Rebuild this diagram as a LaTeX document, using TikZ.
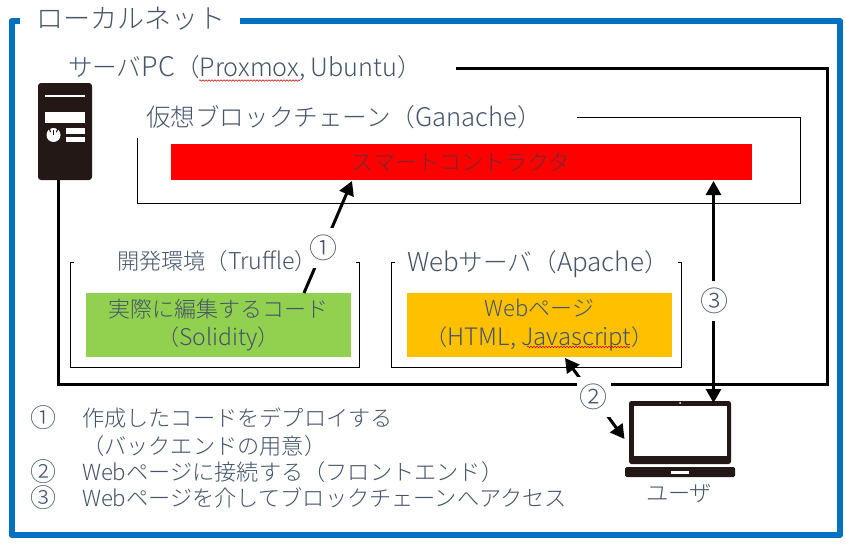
\documentclass[tikz,border=0pt]{standalone}
\usepackage{fontspec}
\setmainfont{Noto Sans CJK JP Light}
\usetikzlibrary{arrows.meta,decorations.pathmorphing,calc}
\definecolor{frameblue}{HTML}{0070C0}
\definecolor{slate}{HTML}{44546A}
\definecolor{ink}{HTML}{231815}
\definecolor{leaf}{HTML}{92D050}
\definecolor{amber}{HTML}{FFC000}
\tikzset{
  frameline/.style={draw=frameblue,line width=6pt,line join=round},
  serverline/.style={draw=black,line width=3pt,line join=miter},
  thinline/.style={draw=black,line width=1pt},
  arrowline/.style={draw=black,line width=3pt,-{Triangle[length=14pt,width=15pt]}},
  bothline/.style={draw=black,line width=3pt,{Triangle[length=14pt,width=15pt]}-{Triangle[length=14pt,width=15pt]}},
  txt/.style={text=slate,inner sep=0pt,outer sep=0pt,anchor=base west,font=\fontsize{22.2}{27}\selectfont},
  big/.style={txt,font=\fontsize{24.6}{28}\selectfont},
  boxtxt/.style={text=slate,align=center,inner sep=0pt,outer sep=0pt,font=\fontsize{22}{28.5}\selectfont},
  num/.style={fill=white,text=slate,inner sep=0pt,outer sep=0pt,font=\fontsize{28}{32}\selectfont},
  listnum/.style={txt,font=\fontsize{26}{28}\selectfont},
  squiggle/.style={draw=red!85!black,line width=0.6pt,decorate,decoration={snake,amplitude=0.7pt,segment length=3pt}},
}
\begin{document}
\begin{tikzpicture}[x=1pt,y=-1pt]
\useasboundingbox (0,0) rectangle (845,543);
\fill[white] (0,0) rectangle (845,543);
% outer frame
\coordinate (fa) at (20,21);
\coordinate (fb) at (240,21);
\draw[frameline] (fa) -- (11.5,21) -- (11.5,535) -- (840,535) -- (840,21) -- (fb);
\node[big,font=\fontsize{27}{30}\selectfont] (title) at (36,29) {ローカルネット};
% server outline
\coordinate (sa) at (456,68.5);
\coordinate (sb) at (58.5,180);
\draw[serverline] (sa) -- (827.5,68.5) -- (827.5,384) -- (58.5,384) -- (sb);
\node[big] (serverlabel) at (68,77) {サーバ{\fontsize{27}{28}\selectfont PC}（{\fontsize{25.2}{28}\selectfont Proxmox, Ubuntu}）};
\draw[squiggle] (199,80.5) -- (300,80.5);
% server icon
\fill[ink,rounded corners=3pt] (38,83) rectangle (92,180);
\fill[white] (45,94.5) rectangle (85,97);
\fill[white] (45,112) rectangle (85,123);
\fill[white] (53.5,135) circle (7);
\draw[ink,line width=1.1pt] (50.7,132.2) arc[start angle=135,end angle=405,radius=4];
\draw[ink,line width=1.1pt] (53.5,130) -- (53.5,135);
\fill[white] (66,128) rectangle (85,133.5);
\fill[white] (66,136.5) rectangle (85,142);
% blockchain box
\coordinate (ga) at (577,117.5);
\coordinate (gb) at (137.5,138);
\draw[thinline] (ga) -- (800.5,117.5) -- (800.5,203) -- (137.5,203) -- (gb);
\node[big] (chainlabel) at (146,126) {仮想ブロックチェーン（{\fontsize{25.6}{28}\selectfont Ganache}）};
\node[fill=red,minimum width=581pt,minimum height=36pt,inner sep=0pt,outer sep=0pt,anchor=north west] (contract) at (171,144) {};
\node[text=slate!55!red!80!black,inner sep=0pt,font=\fontsize{22}{26}\selectfont] (contractlabel) at (461,162) {スマートコントラクタ};
% truffle box
\draw[thinline] (74,262) -- (70.5,262) -- (70.5,367.5) -- (359.5,367.5) -- (359.5,262) -- (356,262);
\node[txt] (trufflelabel) at (117,269) {開発環境（{\fontsize{23.2}{27}\selectfont Truffle}）};
% web server box
\draw[thinline] (395,262) -- (391.5,262) -- (391.5,367.5) -- (681.5,367.5) -- (681.5,262) -- (678,262);
\node[big] (webserverlabel) at (407,271) {{\fontsize{26}{28}\selectfont Web}サーバ（{\fontsize{26}{28}\selectfont Apache}）};
% code boxes
\node[fill=leaf,minimum width=265pt,minimum height=64pt,inner sep=0pt,outer sep=0pt,anchor=north west] (code) at (86,293) {};
\node[boxtxt] (codelabel) at (218.5,325) {実際に編集するコード\\（{\fontsize{23}{28.5}\selectfont Solidity}）};
\node[fill=amber,minimum width=265pt,minimum height=64pt,inner sep=0pt,outer sep=0pt,anchor=north west] (page) at (407,293) {};
\node[boxtxt] (pagelabel) at (539.5,325) {Webページ\\（{\fontsize{24}{28.5}\selectfont HTML, Javascript}）};
\draw[squiggle] (527,347) -- (630,347);
% laptop
\fill[ink,rounded corners=2.5pt] (629,401) rectangle (731,464);
\fill[white] (633.5,405.5) rectangle (726.5,456);
\fill[white] (680,403) circle (1);
\fill[ink,rounded corners=1.5pt] (625,467) rectangle (735,477);
\fill[white] (671,470.5) rectangle (689,473.5);
\node[inner sep=0pt,outer sep=0pt,minimum width=102pt,minimum height=63pt,anchor=north west] (laptop) at (629,401) {};
\node[txt] (userlabel) at (646,501) {ユーザ};
% connectors
\coordinate (a1s) at ($(code.north west)+(218,0)$);
\coordinate (a1e) at ($(contract.south west)+(181,1)$);
\draw[arrowline] (a1s) -- (a1e);
\node[num,minimum width=24pt,minimum height=40pt] (n1) at (323,248) {①};
\coordinate (a3s) at ($(contract.south west)+(542.5,1)$);
\coordinate (a3e) at ($(laptop.north west)+(84.5,2)$);
\draw[bothline] (a3s) -- (a3e);
\node[num,minimum width=26pt,minimum height=40pt] (n3) at (714.5,301) {③};
\coordinate (a2s) at ($(page.south west)+(158,1)$);
\coordinate (a2e) at ($(laptop.north west)+(-4.5,38)$);
\draw[bothline] (a2s) -- (a2e);
\node[num,minimum width=34pt,minimum height=40pt] (n2) at (593.5,397) {②};
% legend
\node[listnum] (l1a) at (30,427) {①};
\node[txt] (l1b) at (82,426) {作成したコードをデプロイする};
\node[txt] (l1c) at (82,454) {（バックエンドの用意）};
\node[listnum] (l2a) at (30,481) {②};
\node[txt] (l2b) at (82,480) {Webページに接続する（フロントエンド）};
\node[listnum] (l3a) at (30,507) {③};
\node[txt] (l3b) at (82,506) {Webページを介してブロックチェーンへアクセス};
\end{tikzpicture}
\end{document}
